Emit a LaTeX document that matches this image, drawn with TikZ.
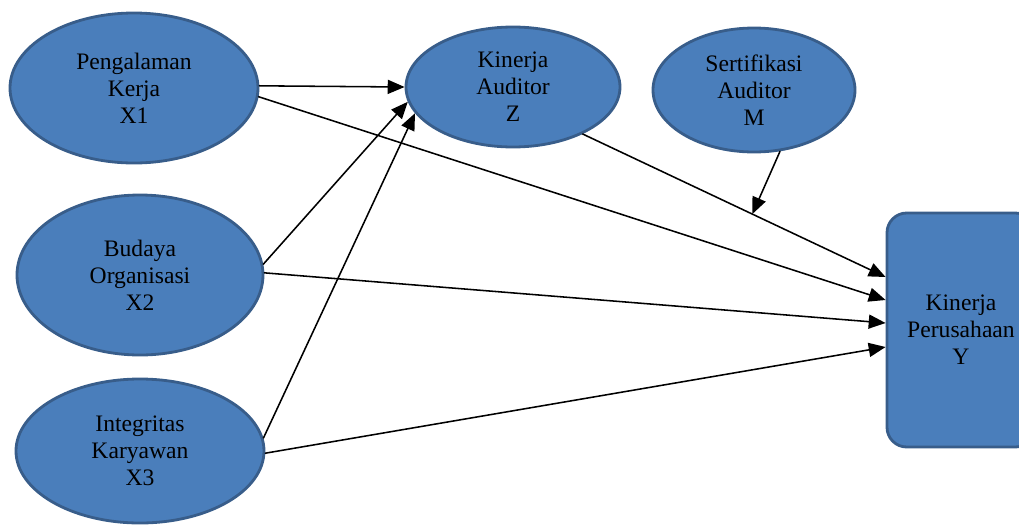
\documentclass[tikz,border=0pt]{standalone}
\usepackage{fontspec}
\setmainfont{Liberation Serif}
\usetikzlibrary{shapes.geometric,arrows.meta,calc}
\definecolor{nenxanh}{RGB}{74,126,187}
\definecolor{vienxanh}{RGB}{56,93,138}
\tikzset{
	bien/.style={ellipse, draw=vienxanh, fill=nenxanh, line width=2pt, inner sep=0pt, align=center},
	hop/.style={rectangle, rounded corners=14pt, draw=vienxanh, fill=nenxanh, line width=2pt, inner sep=0pt, align=center},
	mui/.style={->, line width=1.1pt}
}
\begin{document}
\begin{tikzpicture}[font=\rmfamily\fontsize{16.8}{19.2}\selectfont, line join=round, line cap=round, >={Triangle[length=12pt,width=10pt]}]
	\clip (0,0) rectangle (25.475,-13.125); % khung hinh
	% bien doc lap
	\node[bien, minimum width=6.2cm, minimum height=3.75cm] (X1) at (3.35,-2.2) {Pengalaman\\Kerja\\X1};
	\node[bien, minimum width=6.15cm, minimum height=4cm] (X2) at (3.5,-6.875) {Budaya\\Organisasi\\X2};
	\node[bien, minimum width=6.2cm, minimum height=3.6cm] (X3) at (3.5,-11.275) {Integritas\\Karyawan\\X3};
	% bien trung gian, moderasi
	\node[bien, minimum width=5.35cm, minimum height=3cm] (Z) at (12.825,-2.175) {Kinerja\\Auditor\\Z};
	\node[bien, minimum width=5.05cm, minimum height=3.1cm] (M) at (18.85,-2.25) {Sertifikasi\\Auditor\\M};
	% bien terikat
	\node[hop, minimum width=3.7cm, minimum height=5.85cm] (Y) at (24.025,-8.25) {Kinerja\\Perusahaan\\Y};
	\coordinate (Y1) at ($(Y.west)+(0,1.325)$);
	\coordinate (Y2) at ($(Y.west)+(0,0.75)$);
	\coordinate (Y3) at ($(Y.west)+(0,0.175)$);
	\coordinate (Y4) at ($(Y.west)+(0,-0.425)$);
	\coordinate (ZY) at ($(Z.-34)!0.56!(Y1)$);
	\draw[mui] (X1.1)--(Z.west);
	\draw[mui] (X1.-4)--(Y2);
	\draw[mui] (X2.5)--(Z.188);
	\draw[mui] (X2.1)--(Y3);
	\draw[mui] (X3.6)--(Z.195);
	\draw[mui] (X3.-1)--(Y4);
	\draw[mui] (Z.-34)--(Y1);
	\draw[mui] (M.-67)--(ZY);
\end{tikzpicture}
\end{document}
